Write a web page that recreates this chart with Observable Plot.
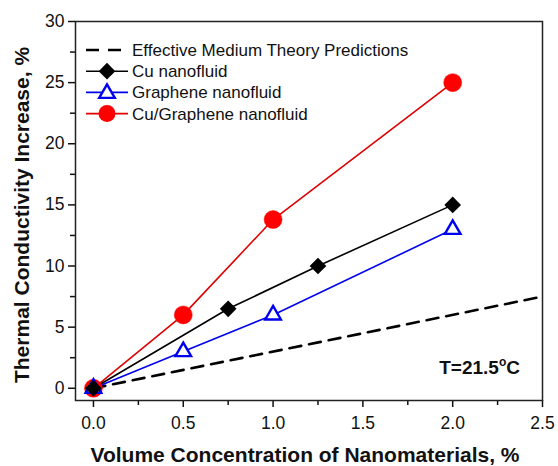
<!DOCTYPE html>
<html>
<head>
<meta charset="utf-8">
<script src="https://cdn.jsdelivr.net/npm/d3@7"></script>
<script src="https://cdn.jsdelivr.net/npm/@observablehq/plot@0.6"></script>
<style>
  html, body { margin: 0; padding: 0; background: #fff; }
  #chart { width: 558px; height: 466px; }
</style>
</head>
<body>
<div id="chart"></div>
<script>
// ---- data ----
const cuX = [0, 0.75, 1.25, 2.0];
const cuY = [0, 6.5, 10, 15];
const grX = [0, 0.5, 1.0, 2.0];
const grY = [0, 3, 6, 13];
const hyX = [0, 0.5, 1.0, 2.0];
const hyY = [0, 6, 13.8, 25];
const emtX = [0, 2.5];
const emtY = [0, 7.5];
const xTicks = [0, 0.5, 1.0, 1.5, 2.0, 2.5];
const xMinor = [0.25, 0.75, 1.25, 1.75, 2.25];
const yTicks = [0, 5, 10, 15, 20, 25, 30];
const yMinor = [2.5, 7.5, 12.5, 17.5, 22.5, 27.5];
const seriesNames = ["Effective Medium Theory Predictions", "Cu nanofluid", "Graphene nanofluid", "Cu/Graphene nanofluid"];
const xTitle = "Volume Concentration of Nanomaterials, %";
const yTitle = "Thermal Conductivity Increase, %";
const noteParts = ["T=21.5", "o", "C"];

const zip = (xs, ys) => xs.map((x, i) => ({x, y: ys[i]}));
const cu = zip(cuX, cuY), gr = zip(grX, grY), hy = zip(hyX, hyY), emt = zip(emtX, emtY);

const RED = "#ff0000", BLUE = "#0000ee", BLACK = "#000";
const FONT = "'Liberation Sans', Arial, sans-serif";

const plot = Plot.plot({
  width: 558,
  height: 466,
  marginLeft: 75,
  marginRight: 16,
  marginTop: 21,
  marginBottom: 66,
  style: {fontFamily: FONT, fontSize: "17.5px", color: "#111", background: "#fff"},
  x: {domain: [-0.1, 2.5]},
  y: {domain: [-1, 30]},
  marks: [
    Plot.axisX({ticks: xTicks, tickSize: 7, tickPadding: 9, tickFormat: d3.format(".1f"), strokeWidth: 1.5, label: null, fontSize: 17.5}),
    Plot.axisX({ticks: xMinor, tickSize: 5, tickFormat: () => "", strokeWidth: 1.5, label: null}),
    Plot.axisY({ticks: yTicks, tickSize: 7, tickPadding: 4, strokeWidth: 1.5, label: null, fontSize: 17.5}),
    Plot.axisY({ticks: yMinor, tickSize: 5, tickFormat: () => "", strokeWidth: 1.5, label: null}),
    Plot.line(emt, {x: "x", y: "y", stroke: BLACK, strokeWidth: 2.6, strokeDasharray: "12,8"}),
    Plot.line(hy, {x: "x", y: "y", stroke: "#e00000", strokeWidth: 1.6}),
    Plot.line(gr, {x: "x", y: "y", stroke: BLUE, strokeWidth: 1.6}),
    Plot.line(cu, {x: "x", y: "y", stroke: BLACK, strokeWidth: 1.6}),
    Plot.dot(hy, {x: "x", y: "y", r: 9, fill: RED, stroke: RED, strokeWidth: 0.5}),
    Plot.dot(gr, {x: "x", y: "y", r: 5.8, symbol: "triangle", fill: "#fff", stroke: BLUE, strokeWidth: 2.4}),
    Plot.dot(cu, {x: "x", y: "y", r: 7.5, symbol: "diamond2", fill: BLACK}),
    Plot.frame({stroke: "#222", strokeWidth: 1.5}),
    Plot.text([xTitle], {frameAnchor: "bottom", textAnchor: "middle", lineAnchor: "middle", dy: 55, dx: -4, fontWeight: "bold", fontSize: 21, fill: "#111"}),
    Plot.text([yTitle], {frameAnchor: "left", textAnchor: "middle", lineAnchor: "middle", rotate: -90, dx: -53, dy: 4, fontWeight: "bold", fontSize: 21, fill: "#111"})
  ]
});

const svg = d3.select(plot);

// ---- annotation with superscript degree ----
const nt = svg.append("text")
  .attr("x", 542 - 22).attr("y", 400 - 33).attr("dy", "0.35em")
  .attr("text-anchor", "end").attr("font-family", FONT)
  .attr("font-size", 19).attr("font-weight", "bold").attr("fill", "#111");
nt.append("tspan").text(noteParts[0]);
nt.append("tspan").attr("font-size", 12).attr("dy", "-0.6em").text(noteParts[1]);
nt.append("tspan").attr("dy", "0.38em").text(noteParts[2]);

// ---- legend (inside the frame, top-left) ----
const lg = svg.append("g").attr("font-family", FONT).attr("font-size", 17).attr("text-anchor", "start");
const rows = [
  {name: seriesNames[0], type: "dash"},
  {name: seriesNames[1], type: "cu"},
  {name: seriesNames[2], type: "gr"},
  {name: seriesNames[3], type: "hy"}
];
const x0 = 86, x1 = 128, xm = 107, xt = 132, y0 = 50, dyRow = 21.2;
rows.forEach((r, i) => {
  const y = y0 + i * dyRow;
  if (r.type === "dash") {
    lg.append("line").attr("x1", x0).attr("x2", x1 - 4).attr("y1", y).attr("y2", y)
      .attr("stroke", BLACK).attr("stroke-width", 2.6).attr("stroke-dasharray", "13,9");
  } else {
    const col = r.type === "cu" ? BLACK : r.type === "gr" ? BLUE : "#e00000";
    lg.append("line").attr("x1", x0).attr("x2", x1).attr("y1", y).attr("y2", y)
      .attr("stroke", col).attr("stroke-width", 1.6);
    if (r.type === "cu") {
      lg.append("path").attr("d", d3.symbol(d3.symbolDiamond2, Math.PI * 7.5 * 7.5)()).attr("transform", `translate(${xm},${y})`).attr("fill", BLACK);
    } else if (r.type === "gr") {
      lg.append("path").attr("d", d3.symbol(d3.symbolTriangle, Math.PI * 5.8 * 5.8)()).attr("transform", `translate(${xm},${y + 1})`).attr("fill", "#fff").attr("stroke", BLUE).attr("stroke-width", 2.4);
    } else {
      lg.append("circle").attr("cx", xm).attr("cy", y).attr("r", 8.5).attr("fill", RED);
    }
  }
  lg.append("text").attr("x", xt).attr("y", y).attr("dy", "0.35em").attr("text-anchor", "start").attr("fill", "#111").text(r.name);
});

document.getElementById("chart").appendChild(plot);
</script>
</body>
</html>
